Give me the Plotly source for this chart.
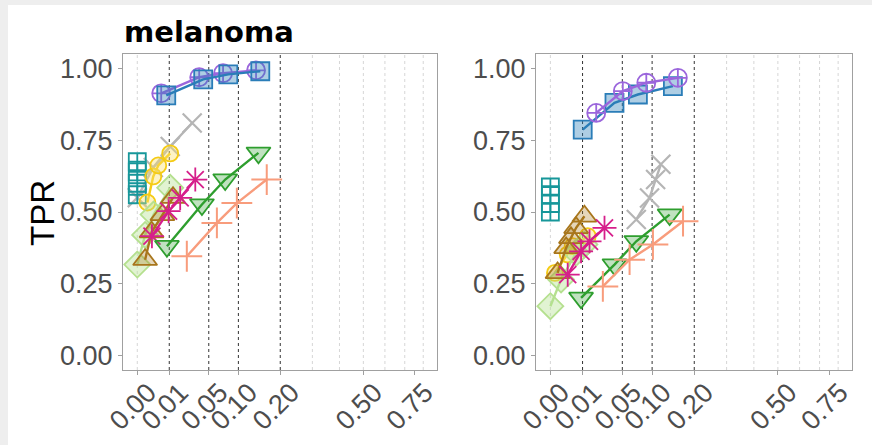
import numpy as np
import plotly.graph_objects as go

# ---------------- data ----------------
X_TICKS = [0.0, 0.01, 0.05, 0.10, 0.20, 0.50, 0.75]
X_TICK_LABELS = ["0.00", "0.01", "0.05", "0.10", "0.20", "0.50", "0.75"]
Y_TICKS = [0.0, 0.25, 0.50, 0.75, 1.00]
Y_TICK_LABELS = ["0.00", "0.25", "0.50", "0.75", "1.00"]
GRID_FDR = [0.0, 0.3, 0.4, 0.5, 0.6, 0.7, 0.8]
THRESH_FDR = [0.01, 0.05, 0.10, 0.20]

# left panel
purple_fdr_L = [0.0056, 0.0375, 0.072, 0.138]
purple_tpr_L = [0.913, 0.969, 0.983, 0.993]
blue_fdr_L = [0.0082, 0.0425, 0.081, 0.148]
blue_tpr_L = [0.906, 0.962, 0.979, 0.990]
gray_fdr_L = [0.0, 0.0025, 0.0106, 0.0295]
gray_tpr_L = [0.550, 0.655, 0.728, 0.810]
teal_fdr_L = [0.0, 0.0, 0.0, 0.0]
teal_tpr_L = [0.560, 0.600, 0.640, 0.675]
yellow_fdr_L = [0.001, 0.0025, 0.0043, 0.0106]
yellow_tpr_L = [0.533, 0.624, 0.662, 0.704]
lgreen_fdr_L = [0.0, 0.0006, 0.0026, 0.0106]
lgreen_tpr_L = [0.317, 0.420, 0.491, 0.584]
brown_fdr_L = [0.0006, 0.002, 0.0062, 0.0125]
brown_tpr_L = [0.334, 0.430, 0.490, 0.550]
magenta_fdr_L = [0.0021, 0.0096, 0.018, 0.0329]
magenta_tpr_L = [0.416, 0.503, 0.549, 0.613]
green_fdr_L = [0.0086, 0.0409, 0.0756, 0.1437]
green_tpr_L = [0.381, 0.526, 0.613, 0.706]
salmon_fdr_L = [0.024, 0.062, 0.097, 0.164]
salmon_tpr_L = [0.346, 0.462, 0.531, 0.613]

# right panel
purple_fdr_R = [0.0203, 0.0507, 0.0889, 0.157]
purple_tpr_R = [0.845, 0.921, 0.950, 0.967]
blue_fdr_R = [0.0101, 0.0397, 0.074, 0.145]
blue_tpr_R = [0.787, 0.880, 0.909, 0.938]
gray_fdr_R = [0.0713, 0.095, 0.107, 0.118]
gray_tpr_R = [0.474, 0.549, 0.613, 0.666]
teal_fdr_R = [0.0, 0.0, 0.0, 0.0]
teal_tpr_R = [0.500, 0.530, 0.560, 0.587]
yellow_fdr_R = [0.0002, 0.0029, 0.0048, 0.0135]
yellow_tpr_R = [0.288, 0.352, 0.381, 0.416]
lgreen_fdr_R = [0.0, 0.0011, 0.0064, 0.0112]
lgreen_tpr_R = [0.172, 0.265, 0.358, 0.387]
brown_fdr_R = [0.0005, 0.0024, 0.0041, 0.0064, 0.0112]
brown_tpr_R = [0.288, 0.375, 0.410, 0.445, 0.485]
magenta_fdr_R = [0.0029, 0.0091, 0.0148, 0.0283]
magenta_tpr_R = [0.282, 0.363, 0.398, 0.445]
green_fdr_R = [0.0091, 0.0397, 0.0713, 0.1374]
green_tpr_R = [0.201, 0.317, 0.398, 0.491]
salmon_fdr_R = [0.0266, 0.0606, 0.1016, 0.170]
salmon_tpr_R = [0.241, 0.334, 0.387, 0.468]

# ---------------- styles ----------------
STYLES = {
    "blue":    dict(color="#2A7DB8", fill="rgba(42,125,184,0.38)", symbol="square", size=18, lw=1.8),
    "purple":  dict(color="#9B66DC", fill="#9B66DC", symbol="circle-cross-open", size=18, lw=1.8),
    "gray":    dict(color="#B5B5B5", fill="#B5B5B5", symbol="x-thin-open", size=19, lw=2.2),
    "teal":    dict(color="#17979A", fill="#17979A", symbol="square-cross-open", size=17, lw=1.8),
    "yellow":  dict(color="#F5CB14", fill="rgba(250,225,110,0.40)", symbol="circle", size=16, lw=1.8),
    "lgreen":  dict(color="#B5E08F", fill="rgba(181,224,143,0.40)", symbol="diamond", size=20, lw=1.8),
    "brown":   dict(color="#A8761C", fill="rgba(168,118,28,0.30)", symbol="triangle-up", size=21, lw=1.8),
    "magenta": dict(color="#D61F8B", fill="#D61F8B", symbol="asterisk-open", size=20, lw=1.8),
    "green":   dict(color="#2E9E2E", fill="rgba(46,158,46,0.30)", symbol="triangle-down", size=21, lw=1.8),
    "salmon":  dict(color="#F89C7C", fill="#F89C7C", symbol="cross-thin-open", size=22, lw=2.0),
}

PANELS = {
    "L": {
        "gray": (gray_fdr_L, gray_tpr_L), "teal": (teal_fdr_L, teal_tpr_L),
        "yellow": (yellow_fdr_L, yellow_tpr_L), "lgreen": (lgreen_fdr_L, lgreen_tpr_L),
        "brown": (brown_fdr_L, brown_tpr_L), "magenta": (magenta_fdr_L, magenta_tpr_L),
        "green": (green_fdr_L, green_tpr_L), "salmon": (salmon_fdr_L, salmon_tpr_L),
        "purple": (purple_fdr_L, purple_tpr_L), "blue": (blue_fdr_L, blue_tpr_L),
    },
    "R": {
        "gray": (gray_fdr_R, gray_tpr_R), "teal": (teal_fdr_R, teal_tpr_R),
        "yellow": (yellow_fdr_R, yellow_tpr_R), "lgreen": (lgreen_fdr_R, lgreen_tpr_R),
        "brown": (brown_fdr_R, brown_tpr_R), "magenta": (magenta_fdr_R, magenta_tpr_R),
        "green": (green_fdr_R, green_tpr_R), "salmon": (salmon_fdr_R, salmon_tpr_R),
        "blue": (blue_fdr_R, blue_tpr_R), "purple": (purple_fdr_R, purple_tpr_R),
    },
}

W, H = 872, 445
fig = go.Figure()

axes = {"L": ("x", "y"), "R": ("x2", "y2")}
for panel, series in PANELS.items():
    xa, ya = axes[panel]
    for name, (fdr, tpr) in series.items():
        st = STYLES[name]
        sx = np.sqrt(np.array(fdr, dtype=float))
        mode = "markers" if name == "teal" else "lines+markers"
        fig.add_trace(go.Scatter(
            x=sx, y=tpr, mode=mode, xaxis=xa, yaxis=ya, showlegend=False, name=name,
            line=dict(color=st["color"], width=2.4),
            marker=dict(symbol=st["symbol"], size=st["size"], color=st["fill"],
                        line=dict(color=st["color"], width=st["lw"])),
        ))

# grid lines
shapes = []
for xa in ["x", "x2"]:
    yref = ("y" if xa == "x" else "y2") + " domain"
    for g in GRID_FDR:
        shapes.append(dict(type="line", xref=xa, yref=yref,
                           x0=np.sqrt(g), x1=np.sqrt(g), y0=0, y1=1, layer="below",
                           line=dict(color="#D6D6D6", width=1, dash="dot")))
    for t in THRESH_FDR:
        shapes.append(dict(type="line", xref=xa, yref=yref,
                           x0=np.sqrt(t), x1=np.sqrt(t), y0=0, y1=1, layer="below",
                           line=dict(color="#333333", width=1, dash="3px,3px")))
# card background
shapes.insert(0, dict(type="rect", xref="paper", yref="paper", x0=8 / W, x1=1.0, y0=0, y1=1 - 5 / H,
                      fillcolor="white", line=dict(width=0), layer="below"))

XR = [-0.0447, 0.9375]
YR = [-0.05, 1.05]
tickfont = dict(family="Liberation Sans, Arial, sans-serif", size=27, color="#4D4D4D")
y0d, y1d = (H - 370) / H, (H - 54) / H

def xaxis(domain, anchor):
    return dict(domain=domain, anchor=anchor, range=XR, tickvals=list(np.sqrt(X_TICKS)),
                ticktext=X_TICK_LABELS, tickangle=-45, ticks="outside", ticklen=4,
                tickcolor="#A0A0A0", tickfont=tickfont, showline=True, mirror=True,
                linecolor="#A0A0A0", linewidth=1, showgrid=False, zeroline=False,
                automargin=False, ticklabelshift=11, ticklabelstandoff=-9)

def yaxis(domain, anchor):
    return dict(domain=domain, anchor=anchor, range=YR, tickvals=Y_TICKS, ticktext=Y_TICK_LABELS,
                ticks="outside", ticklen=4, tickcolor="#A0A0A0", tickfont=tickfont,
                showline=True, mirror=True, linecolor="#A0A0A0", linewidth=1,
                showgrid=False, zeroline=False, automargin=False)

fig.update_layout(
    width=W, height=H, margin=dict(l=0, r=0, t=0, b=0, autoexpand=False),
    paper_bgcolor="#EEEEEE", plot_bgcolor="rgba(0,0,0,0)",
    xaxis=xaxis([123 / W, 437 / W], "y"),
    yaxis=yaxis([y0d, y1d], "x"),
    xaxis2=xaxis([536 / W, 852 / W], "y2"),
    yaxis2=yaxis([y0d, y1d], "x2"),
    shapes=shapes,
    annotations=[
        dict(text="<b>melanoma</b>", xref="paper", yref="paper", x=122 / W, y=1 - 32 / H,
             xanchor="left", yanchor="middle", showarrow=False,
             font=dict(family="DejaVu Sans, sans-serif", size=29, color="black")),
        dict(text="TPR", xref="paper", yref="paper", x=42 / W, y=1 - 213 / H, textangle=-90,
             xanchor="center", yanchor="middle", showarrow=False,
             font=dict(family="Liberation Sans, Arial, sans-serif", size=33, color="black")),
    ],
)

fig.write_html("out.html")
